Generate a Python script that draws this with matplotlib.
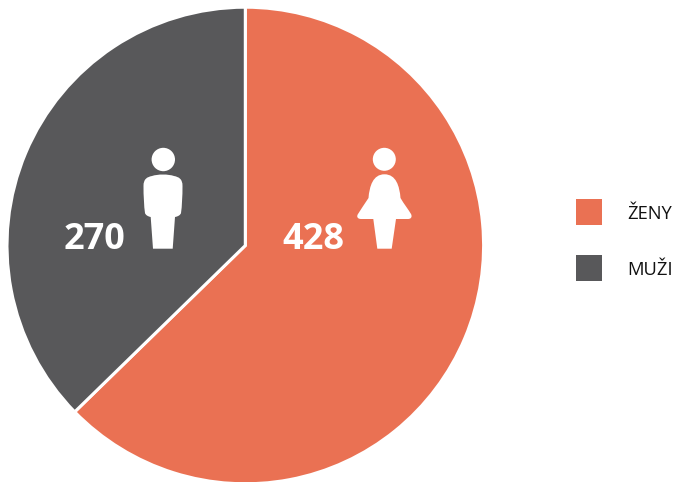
import matplotlib
matplotlib.use('Agg')
from matplotlib import pyplot as plt
from matplotlib.patches import Circle, PathPatch, Rectangle
from matplotlib.path import Path

categories = ['ŽENY', 'MUŽI']
counts = [428, 270]
# the slices in the picture are not quite 428:270, share read from the picture
shares = [62.7, 37.3]
colors = ['#EA7153', '#58585A']

H = 482
plt.rcParams['font.family'] = ['Open Sans', 'DejaVu Sans']

fig = plt.figure(figsize=(6.78, 4.82), dpi=100)
ax = fig.add_axes([0, 0, 1, 1])

ax.pie(shares, colors=colors, startangle=90, counterclock=False,
       center=(245.3, H - 245.5), radius=238.3,
       wedgeprops={'edgecolor': 'white', 'linewidth': 2.2})
ax.set_xlim(0, 678)
ax.set_ylim(0, H)
ax.set_aspect('equal')
ax.axis('off')


def icon(verts, codes):
    pts = [(x, H - y) for x, y in verts]
    ax.add_patch(PathPatch(Path(pts, codes), fc='white', ec='none', zorder=5))


M, L, C, Z = Path.MOVETO, Path.LINETO, Path.CURVE4, Path.CLOSEPOLY

# muz
ax.add_patch(Circle((163.3, H - 159.5), 11.7, fc='white', ec='none', zorder=5))
icon([(152, 176),
      (158, 174), (168, 174), (174, 176),
      (179, 177), (182.5, 179), (182.5, 186),
      (182.5, 196), (182, 206), (181, 213),
      (180.5, 215), (178, 216.5), (175, 217),
      (172.7, 248.7), (153, 248.7), (150.7, 217),
      (148, 216.5), (145.5, 215), (145, 213),
      (144, 206), (143.5, 196), (143.5, 186),
      (143.5, 179), (147, 177), (152, 176),
      (152, 176)],
     [M, C, C, C, C, C, C, C, C, C, C, C, C, L, L, L, C, C, C, C, C, C, C, C, C, Z])

# zena
ax.add_patch(Circle((384.3, H - 159.3), 11.5, fc='white', ec='none', zorder=5))
icon([(384.5, 174.3), (373, 174.3), (369.5, 186), (368.5, 198), (364, 205), (361, 209), (358, 214),
      (356, 217), (358, 219), (361, 219), (373.3, 219), (377.3, 248.7), (391.7, 248.7),
      (396, 219), (408, 219), (411, 219), (412.5, 217), (411, 214), (408, 209), (404, 204),
      (400.5, 198), (399.5, 186), (396, 174.3), (384.5, 174.3), (384.5, 174.3)],
     [M, C, C, C, C, C, C, C, C, C, L, L, L, L, L, C, C, C, C, C, C, C, C, C, Z])

# nombres
ax.text(313, H - 249, str(counts[0]), color='white', fontsize=26, fontweight='bold',
        ha='center', va='baseline', zorder=6)
ax.text(94.5, H - 249, str(counts[1]), color='white', fontsize=26, fontweight='bold',
        ha='center', va='baseline', zorder=6)

# legende
legend_y = [212, 268]
legend_base = [219.3, 275]
for name, col, y, yb in zip(categories, colors, legend_y, legend_base):
    ax.add_patch(Rectangle((576, H - y - 13), 26, 26, fc=col, ec='none'))
    ax.text(627.5, H - yb, name, color='#111111', fontsize=13.2, ha='left', va='baseline')

plt.savefig('out.png', dpi=100)
